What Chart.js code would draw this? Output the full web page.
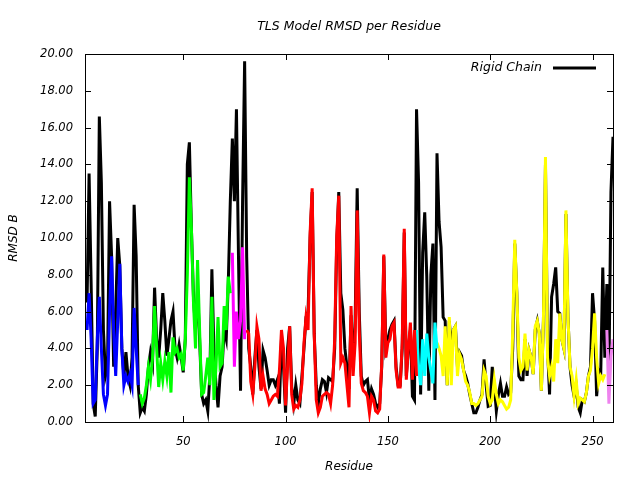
<!DOCTYPE html>
<html>
<head>
<meta charset="utf-8">
<script src="https://cdn.jsdelivr.net/npm/chart.js@4"></script>
<style>
  html, body { margin: 0; padding: 0; background: #fff; }
  canvas { display: block; }
</style>
</head>
<body>
<canvas id="rmsdChart" width="640" height="480"></canvas>
<script>
// RMSD B per residue
const xRange = [2, 260];
const xTickValues = [50, 100, 150, 200, 250];

// Rigid chain (black), residues 3..260
const rigidStart = 3;
const rigidChain = [
    6.5, 13.5, 7.5, 1.0, 0.3, 4.0, 16.6, 13.0, 5.0, 2.5, 3.0, 12.0, 9.0, 3.0, 6.0, 10.0, 8.5, 4.0, 2.5, 3.8,
    2.5, 2.0, 3.5, 11.8, 9.0, 2.0, 0.5, 0.8, 0.6, 1.5, 3.0, 3.8, 3.2, 7.3, 4.5, 3.5, 5.0, 7.0, 5.5, 3.6,
    4.5, 5.5, 6.0,
    4.0, 3.5, 4.2, 3.5, 2.7, 4.5, 14.0, 15.2, 10.5, 6.8, 5.0, 7.2, 4.5, 1.5, 1.0, 1.2, 0.6, 2.5, 8.3, 3.9,
    2.0, 0.8, 2.5, 3.0, 5.0, 4.5, 7.5, 12.0,
    15.4, 12.0, 17.0, 9.0, 1.7, 12.0, 19.6, 9.0, 4.0, 3.0, 1.5, 3.5, 5.0, 3.0, 1.8, 3.9, 3.5, 2.8, 2.0, 2.3,
    2.3, 2.0, 2.3, 1.0, 4.5, 3.0, 0.5, 4.0, 5.2, 1.9, 1.0, 2.0, 1.2, 1.0, 2.5, 4.0, 5.7, 6.0, 10.0, 12.5,
    4.8, 2.0, 1.0, 1.8, 2.3, 2.2, 1.6, 2.4, 2.3, 2.2, 4.0, 9.7, 12.5, 7.0, 6.1, 4.0, 3.0, 1.8,
    5.8, 3.0, 5.5, 12.7, 6.0, 2.5, 2.0, 2.2, 2.3, 1.2, 1.8, 1.5, 1.0, 0.8, 1.0, 3.0, 9.0, 4.0, 4.5, 5.0,
    5.3, 5.5, 3.0, 2.0, 2.0, 4.0, 10.3, 2.5, 4.0, 5.0, 1.4, 1.2,
    17.0, 13.0, 1.5, 9.2, 11.4, 7.9, 1.7, 8.0, 9.7, 1.2, 14.6, 10.9, 9.5, 5.7, 5.5, 2.0, 5.5, 4.0, 5.0, 5.2,
    3.0, 3.8, 3.6, 2.8, 2.5, 2.1, 1.5, 1.0, 0.5, 0.5, 0.8, 1.2, 1.5, 3.4, 2.0, 0.85, 0.9, 3.0, 2.0, 0.6,
    1.5, 2.1, 1.4, 1.4, 1.9, 1.5, 1.6, 4.0, 9.7, 7.0, 2.5, 2.3, 2.3, 4.5,
    2.5, 3.9, 3.5, 2.6, 5.0, 5.5, 4.8, 1.7, 5.5, 14.0, 4.0, 1.5, 6.8, 7.5, 8.4, 6.0, 5.9, 4.5, 4.0, 11.3,
    5.7, 3.0, 2.0, 1.4, 2.0, 0.8, 0.5, 1.2, 1.1, 1.6, 2.5, 3.0, 7.0, 5.5, 1.4, 2.8, 2.6, 8.4, 3.5, 7.5,
    2.5, 12.5, 15.5
];

// TLS groups
const blueStart = 3;
const blueGroup = [
    5.0, 7.0, 4.5, 1.0, 1.2, 4.5, 6.8, 4.0, 1.5, 0.9, 1.5, 6.0, 9.0, 5.0, 2.5, 5.5, 8.6, 4.0, 2.0, 2.5,
    2.2, 2.6, 2.0, 6.2, 4.0, 2.0
];
const greenStart = 29;
const greenGroup = [
    1.5, 1.0, 1.3, 2.0, 3.0, 2.3, 3.5, 6.3, 4.0, 1.9, 3.2, 2.3, 3.3, 2.5, 3.8, 1.6, 4.6,
    3.8, 4.0, 3.5, 3.7, 2.8, 4.5, 8.0, 13.3, 10.5, 6.5, 4.0, 8.8, 5.0, 1.5, 1.6, 2.5, 3.5, 2.0, 6.8, 1.2,
    3.0, 5.7, 3.0, 3.2, 6.3, 5.0, 7.9, 7.0
];
const magentaStart = 74;
const magentaGroup = [9.2, 3.0, 6.0, 4.5, 5.5, 9.5, 4.5];
const redStart = 81;
const redGroup = [
    5.0, 4.8, 2.2, 1.5, 3.0, 5.2, 4.5, 1.7, 2.5, 1.8, 1.5, 1.0, 1.2, 1.4, 1.5, 1.4, 2.8, 5.0, 4.0, 0.9,
    3.0, 5.2, 1.5, 0.7, 0.9, 0.8, 1.2, 2.1, 4.3, 5.7, 5.0, 10.3, 12.7, 4.8, 1.2, 0.5, 0.8, 1.4, 1.5, 1.6,
    1.5, 1.0, 2.0, 4.5, 10.1, 12.3, 3.2, 3.5, 3.2, 2.0, 0.8,
    6.3, 2.5, 4.3, 11.5, 5.0, 2.1, 1.7, 1.6, 1.4, 0.5, 1.4, 1.2, 0.6, 0.5, 0.7, 3.2, 9.1, 3.5, 4.3, 4.5,
    5.2, 5.4, 2.8, 1.9, 1.9, 4.3, 10.5, 2.3, 4.0, 5.4, 2.3, 5.0, 2.5
];
const cyanStart = 164;
const cyanGroup = [5.0, 3.0, 2.0, 4.5, 2.5, 4.8, 3.5, 2.8, 2.1, 5.4, 4.0];
const yellowStart = 174;
const yellowGroup = [
    4.3, 4.0, 3.6, 2.5, 5.2, 2.0, 5.7, 2.0, 5.0, 5.2, 2.5, 3.7, 3.4, 2.8, 2.2, 2.0, 1.6, 1.0, 1.0, 0.9,
    1.0, 1.2, 1.4, 2.8, 2.5, 1.4, 1.0, 1.2, 2.3, 1.5, 1.0, 1.2, 1.1, 0.9, 0.7, 0.8, 1.2, 5.0, 9.9, 7.0,
    3.5, 2.8, 3.0, 4.8,
    2.8, 3.9, 3.5, 2.6, 5.2, 5.5, 4.8, 1.7, 5.5, 14.4, 3.5, 2.5, 3.0, 2.2, 4.5, 3.2, 5.9, 4.5, 4.0, 11.5,
    5.7, 3.0, 2.5, 1.4, 2.3, 1.0, 1.3, 1.2, 1.1, 1.6, 2.5, 2.8, 4.0, 5.9, 3.5, 2.1, 2.5, 2.3, 2.6
];
const violetStart = 257;
const violetGroup = [5.0, 1.0, 3.6, 4.5];

const FONT = '"DejaVu Sans", sans-serif';

function toPoints(values, start) {
    return values.map((v, i) => ({ x: start + i, y: v }));
}

function series(label, values, start, color, order) {
    return {
        label: label,
        data: toPoints(values, start),
        borderColor: color,
        backgroundColor: color,
        borderWidth: 3,
        pointRadius: 0,
        tension: 0,
        fill: false,
        order: order
    };
}

// frame, inward ticks, legend and texts, drawn gnuplot style
const gnuplotDecor = {
    id: 'gnuplotDecor',
    afterDraw(chart) {
        const { ctx, chartArea: a, scales: { x, y } } = chart;
        ctx.save();
        ctx.strokeStyle = '#000';
        ctx.lineWidth = 1;
        ctx.strokeRect(a.left + 0.5, a.top + 0.5, a.right - a.left, a.bottom - a.top);

        ctx.beginPath();
        xTickValues.forEach(v => {
            const px = Math.round(x.getPixelForValue(v)) + 0.5;
            ctx.moveTo(px, a.bottom); ctx.lineTo(px, a.bottom - 6);
            ctx.moveTo(px, a.top); ctx.lineTo(px, a.top + 6);
        });
        y.ticks.forEach(t => {
            const py = Math.round(y.getPixelForValue(t.value)) + 0.5;
            ctx.moveTo(a.left, py); ctx.lineTo(a.left + 6, py);
            ctx.moveTo(a.right, py); ctx.lineTo(a.right - 6, py);
        });
        ctx.stroke();

        ctx.fillStyle = '#000';
        ctx.textBaseline = 'middle';

        ctx.textAlign = 'center';
        ctx.font = 'italic 12.5px ' + FONT;
        ctx.fillText('TLS Model RMSD per Residue', (a.left + a.right) / 2, 27);
        ctx.font = 'italic 12px ' + FONT;
        ctx.fillText('Residue', (a.left + a.right) / 2, 467);

        ctx.save();
        ctx.translate(14, (a.top + a.bottom) / 2);
        ctx.rotate(-Math.PI / 2);
        ctx.fillText('RMSD B', 0, 0);
        ctx.restore();

        // legend
        ctx.textAlign = 'right';
        ctx.font = 'italic 12.5px ' + FONT;
        ctx.fillText('Rigid Chain', a.right - 71, a.top + 14);
        ctx.lineWidth = 3;
        ctx.beginPath();
        ctx.moveTo(a.right - 60, a.top + 14);
        ctx.lineTo(a.right - 17, a.top + 14);
        ctx.stroke();
        ctx.restore();
    }
};

new Chart(document.getElementById('rmsdChart'), {
    type: 'line',
    data: {
        datasets: [
            series('Rigid Chain', rigidChain, rigidStart, '#000000', 1),
            series('Group 1', blueGroup, blueStart, '#0000ff', 0),
            series('Group 2', greenGroup, greenStart, '#00ff00', 0),
            series('Group 3', magentaGroup, magentaStart, '#ff00ff', 0),
            series('Group 4', redGroup, redStart, '#ff0000', 0),
            series('Group 5', cyanGroup, cyanStart, '#00ffff', 0),
            series('Group 6', yellowGroup, yellowStart, '#ffff00', 0),
            series('Group 7', violetGroup, violetStart, '#ee82ee', 0)
        ]
    },
    options: {
        responsive: false,
        animation: false,
        layout: { padding: { top: 54, right: 27, left: 0, bottom: 0 } },
        scales: {
            x: {
                type: 'linear',
                min: xRange[0],
                max: xRange[1],
                grid: { display: false, drawTicks: false },
                border: { display: false },
                afterFit: s => { s.height = 58; },
                afterBuildTicks: s => { s.ticks = xTickValues.map(v => ({ value: v })); },
                ticks: {
                    padding: 13,
                    color: '#000',
                    maxRotation: 0,
                    font: { family: FONT, size: 11.5, style: 'italic' }
                }
            },
            y: {
                min: 0,
                max: 20,
                grid: { display: false, drawTicks: false },
                border: { display: false },
                afterFit: s => { s.width = 85; },
                ticks: {
                    stepSize: 2,
                    padding: 12,
                    color: '#000',
                    callback: v => v.toFixed(2),
                    font: { family: FONT, size: 11.5, style: 'italic' }
                }
            }
        },
        plugins: {
            legend: { display: false },
            tooltip: { enabled: false },
            title: { display: false }
        }
    },
    plugins: [gnuplotDecor]
});
</script>
</body>
</html>
